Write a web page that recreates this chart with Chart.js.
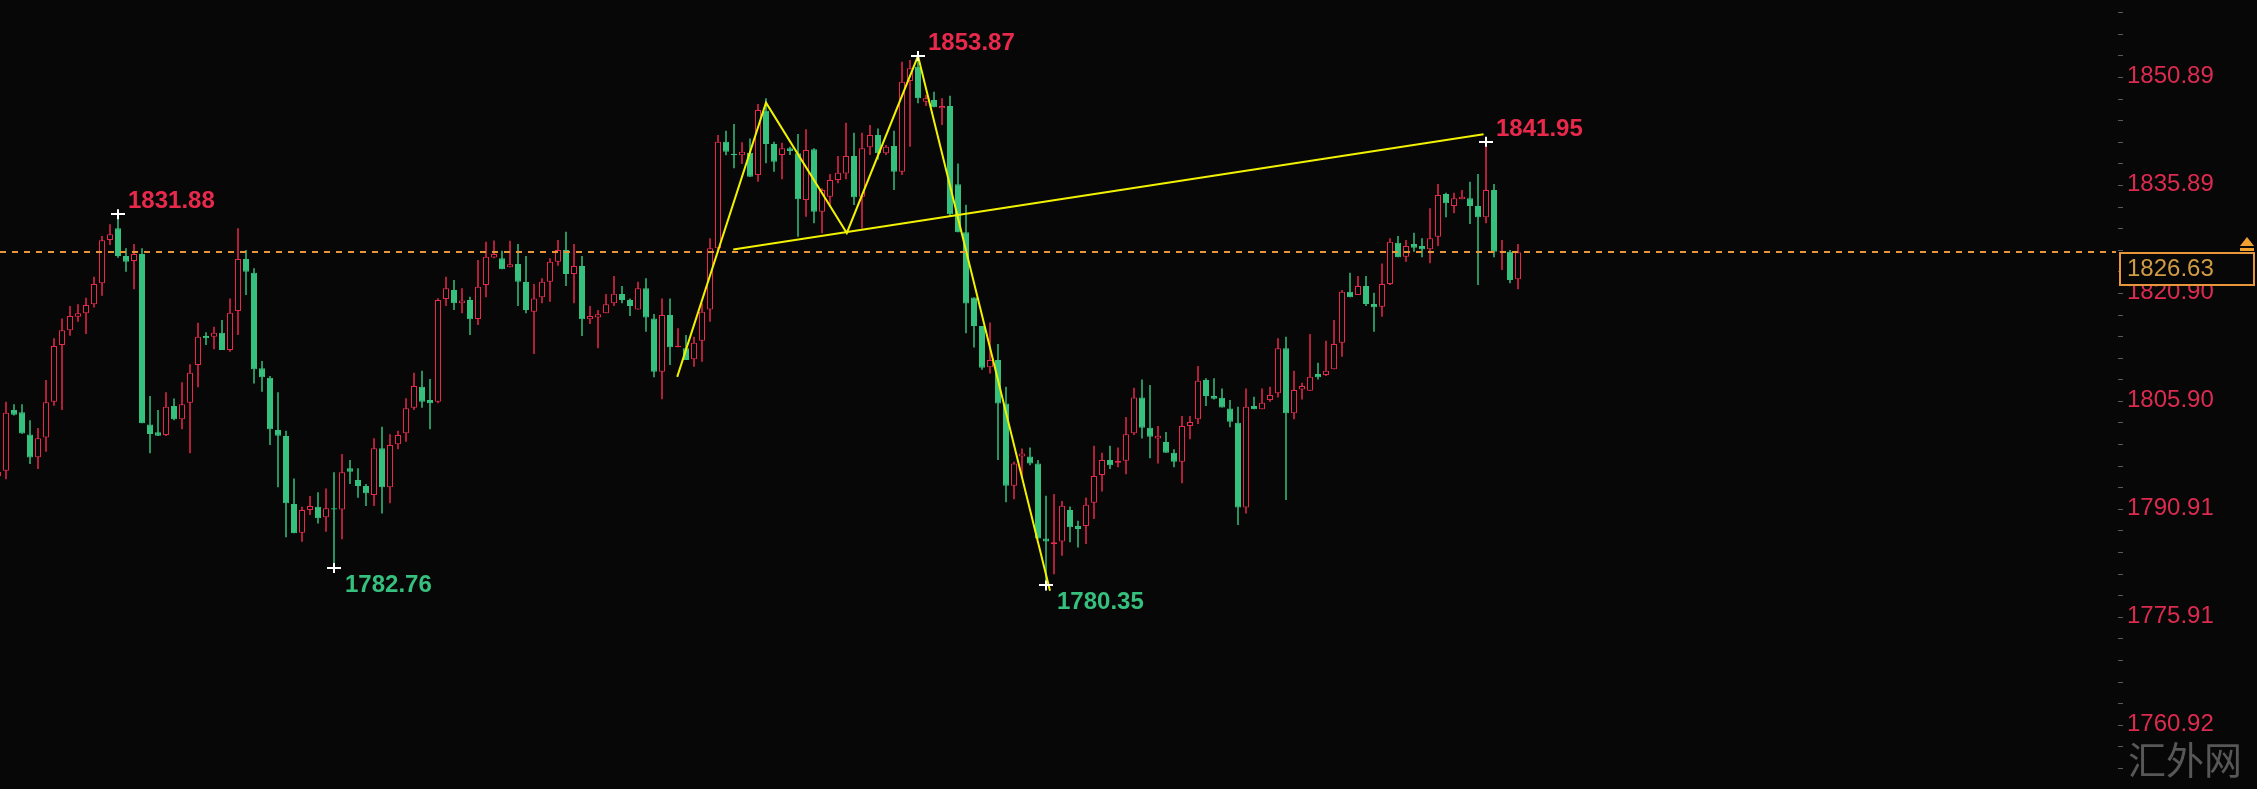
<!DOCTYPE html>
<html>
<head>
<meta charset="utf-8">
<script src="https://cdn.jsdelivr.net/npm/chart.js@4.4.1/dist/chart.umd.min.js"></script>
<style>
  html, body { margin: 0; padding: 0; background: #070707; overflow: hidden; }
  #wrap { width: 2257px; height: 789px; }
</style>
</head>
<body>
<div id="wrap"><canvas id="c" width="2257" height="789" style="width:2257px;height:789px"></canvas></div>
<script>
// ---- Data ----
const firstCandle = -1;
const opens = [1795.5,
1796.28,1804.70,1804.40,1801.30,1798.15,1800.90,1805.86,1813.73,1815.80,1817.67,
1818.13,1819.38,1822.30,1828.32,1829.94,1826.10,1825.40,1826.37,1802.70,1801.60,
1801.23,1805.26,1803.41,1805.72,1810.96,1814.98,1814.89,1815.45,1813.04,1818.45,
1825.68,1823.78,1810.49,1809.20,1801.93,1801.10,1791.65,1787.67,1790.82,1791.28,
1789.80,1791.05,1790.90,1796.60,1794.98,1794.15,1792.90,1799.38,1793.97,1799.94,
1801.47,1805.03,1807.95,1806.09,1805.86,1820.12,1821.37,1819.52,1819.98,1817.34,
1822.07,1825.90,1825.77,1824.52,1824.98,1822.48,1818.36,1820.35,1822.53,1825.31,
1826.93,1823.59,1824.70,1817.30,1817.57,1818.13,1819.52,1820.81,1819.98,1818.68,
1821.60,1817.43,1810.03,1817.90,1813.41,1813.27,1811.74,1814.33,1818.68,1827.16,
1841.97,1840.30,1840.10,1840.45,1837.34,1846.28,1841.65,1840.12,1841.05,1840.35,
1833.87,1840.91,1832.25,1834.33,1836.65,1837.57,1839.98,1834.33,1841.19,1842.90,
1840.35,1841.37,1837.80,1850.40,1852.39,1847.52,1847.76,1846.60,1846.93,1836.06,
1829.41,1820.34,1816.37,1810.66,1811.65,1805.60,1794.20,1798.26,1798.26,1797.27,
1786.85,1786.10,1786.45,1790.82,1788.59,1788.59,1791.81,1795.68,1797.76,1797.37,
1797.67,1801.49,1806.45,1802.23,1800.74,1800.25,1798.76,1797.53,1802.48,1803.41,
1808.87,1806.65,1806.42,1804.93,1802.94,1791.18,1805.26,1804.80,1806.09,1807.02,
1813.27,1804.24,1807.57,1807.39,1809.70,1809.56,1810.35,1814.06,1821.14,1820.68,
1821.93,1819.43,1819.06,1822.20,1827.94,1826.00,1827.76,1827.48,1827.02,1828.78,
1834.71,1833.04,1833.96,1834.10,1833.04,1831.46,1835.26,1826.60,1826.69,1822.86];
const highs = [1796.6,
1805.86,1805.50,1805.50,1803.30,1802.20,1808.87,1814.66,1817.40,1819.15,1819.40,
1820.30,1823.20,1828.87,1830.49,1831.88,1827.16,1827.76,1827.16,1806.65,1804.70,
1807.16,1806.30,1808.55,1811.05,1816.83,1815.50,1816.28,1817.20,1820.20,1829.94,
1826.93,1824.38,1811.51,1809.43,1807.16,1801.84,1795.21,1791.28,1792.76,1793.27,
1793.80,1796.05,1798.60,1797.76,1796.60,1794.43,1800.77,1802.39,1801.33,1801.84,
1806.33,1809.89,1810.17,1809.01,1820.22,1823.22,1822.76,1821.60,1820.45,1825.54,
1828.08,1828.25,1826.83,1828.22,1827.76,1826.09,1822.20,1822.99,1825.77,1828.32,
1829.47,1827.76,1826.09,1819.15,1818.60,1820.81,1823.31,1821.93,1820.21,1822.53,
1822.99,1818.04,1820.21,1820.21,1816.05,1815.12,1814.89,1819.52,1828.55,1842.90,
1843.50,1844.43,1841.88,1842.43,1847.20,1847.99,1841.97,1841.84,1841.28,1843.04,
1843.69,1841.05,1835.49,1837.48,1839.98,1844.61,1843.22,1843.22,1844.29,1843.82,
1841.50,1843.50,1853.08,1853.31,1853.87,1848.45,1848.92,1847.99,1848.36,1838.94,
1833.23,1820.34,1816.37,1816.86,1813.89,1807.93,1797.52,1799.35,1799.50,1797.76,
1792.80,1793.05,1792.06,1791.32,1789.33,1792.55,1799.75,1798.76,1799.75,1799.50,
1803.72,1807.79,1808.93,1808.18,1802.48,1801.64,1799.25,1803.87,1803.87,1810.81,
1809.10,1809.10,1807.71,1806.09,1805.17,1807.71,1806.56,1807.71,1807.94,1814.66,
1814.89,1810.17,1808.50,1815.26,1811.28,1814.33,1817.20,1821.38,1823.78,1823.32,
1823.32,1820.99,1825.07,1828.55,1828.87,1828.32,1829.33,1828.55,1832.71,1836.09,
1834.89,1834.89,1835.26,1836.42,1837.48,1841.95,1836.09,1828.32,1826.93,1827.76];
const lows = [1795.2,
1795.08,1803.95,1801.40,1797.20,1796.50,1798.90,1805.30,1804.70,1815.03,1816.97,
1815.26,1818.96,1820.59,1827.62,1825.86,1823.92,1821.47,1802.85,1798.70,1801.10,
1801.10,1803.30,1802.02,1798.70,1807.85,1813.73,1813.13,1813.04,1812.80,1815.12,
1820.68,1808.40,1807.25,1799.84,1793.97,1787.02,1787.58,1786.42,1790.12,1788.96,
1787.81,1782.76,1786.74,1794.43,1792.53,1791.37,1791.37,1790.35,1791.74,1799.24,
1800.31,1804.70,1805.03,1802.02,1805.63,1819.15,1818.60,1818.13,1815.12,1816.51,
1820.35,1825.80,1824.24,1824.52,1819.15,1818.13,1812.48,1819.52,1819.75,1824.75,
1821.93,1819.52,1814.98,1816.65,1813.27,1818.13,1819.15,1819.52,1817.76,1818.68,
1815.59,1809.24,1806.19,1810.95,1813.41,1811.65,1810.72,1811.42,1816.97,1826.50,
1840.10,1838.27,1838.87,1837.11,1836.42,1838.96,1837.80,1836.74,1840.12,1828.78,
1831.55,1830.63,1829.24,1833.17,1836.19,1836.74,1833.17,1829.93,1840.12,1839.50,
1840.12,1835.26,1837.34,1841.28,1847.30,1846.93,1846.74,1844.29,1831.55,1829.40,
1815.37,1813.39,1810.30,1809.77,1797.76,1791.91,1792.31,1795.39,1797.02,1786.85,
1780.35,1781.90,1784.47,1786.35,1785.61,1786.10,1789.58,1793.40,1796.53,1796.77,
1795.78,1801.24,1800.74,1798.01,1797.27,1798.76,1796.77,1794.52,1800.63,1802.76,
1805.26,1806.18,1805.07,1802.30,1788.73,1790.35,1804.80,1804.80,1805.86,1806.46,
1792.20,1803.41,1806.18,1807.39,1808.96,1809.42,1810.35,1812.12,1820.36,1820.68,
1819.15,1815.59,1817.67,1822.07,1825.91,1825.31,1826.69,1825.91,1825.08,1827.48,
1831.46,1832.02,1833.96,1830.54,1822.07,1830.63,1825.91,1824.15,1822.30,1821.47];
const closes = [1796.1,
1804.33,1804.05,1801.45,1798.10,1800.77,1805.77,1813.60,1815.80,1817.76,1818.13,
1819.30,1822.20,1828.30,1829.10,1826.10,1825.30,1826.37,1802.85,1801.37,1801.14,
1805.17,1803.41,1805.50,1809.89,1814.89,1814.66,1815.45,1813.04,1818.22,1825.68,
1823.92,1810.35,1809.24,1802.02,1801.14,1791.74,1787.58,1790.82,1791.37,1789.66,
1791.05,1790.90,1796.05,1796.14,1794.15,1793.13,1799.38,1793.97,1799.84,1801.23,
1804.94,1808.04,1805.86,1805.63,1819.98,1821.60,1819.52,1819.90,1817.30,1821.84,
1826.00,1826.37,1824.24,1824.94,1822.53,1818.60,1820.21,1822.53,1825.31,1826.93,
1823.59,1824.70,1817.30,1817.76,1817.99,1819.38,1820.86,1819.98,1819.15,1821.60,
1817.57,1810.03,1817.90,1813.41,1813.64,1811.65,1814.05,1818.36,1827.16,1841.97,
1840.58,1840.10,1840.58,1837.11,1846.37,1841.65,1839.19,1841.05,1840.67,1833.96,
1840.81,1832.25,1835.26,1836.65,1837.67,1839.98,1834.24,1841.05,1842.90,1840.35,
1841.28,1837.80,1850.31,1852.16,1847.99,1847.99,1846.74,1846.93,1831.90,1829.41,
1819.49,1816.37,1810.56,1811.65,1805.60,1794.20,1797.27,1798.66,1797.27,1786.85,
1786.45,1786.35,1791.42,1788.44,1788.19,1791.56,1795.53,1797.76,1797.02,1797.61,
1801.34,1806.45,1802.23,1800.99,1801.14,1798.76,1797.52,1802.48,1803.04,1808.78,
1806.65,1806.28,1805.07,1803.08,1791.18,1805.17,1804.80,1805.72,1806.79,1813.27,
1804.24,1807.48,1808.04,1809.33,1809.24,1810.17,1813.87,1821.14,1820.36,1821.93,
1819.43,1818.97,1822.21,1828.08,1825.91,1827.48,1827.25,1827.02,1828.55,1834.57,
1833.41,1834.10,1834.33,1833.04,1831.46,1835.26,1826.69,1826.75,1822.76,1826.63];

// price axis tick labels
const tickLabels = ['1760.92', '1775.91', '1790.91', '1805.90', '1820.90', '1835.89', '1850.89'];
const currentPrice = 1826.63;

// marked highs / lows
const pivotIndex = [14, 41, 114, 130, 185];
const pivotPrice = [1831.88, 1782.76, 1853.87, 1780.35, 1841.95];
const pivotKind = ['high', 'low', 'high', 'low', 'high'];

// yellow drawing lines (candle index, price)
const zigzagIndex = [83.9, 95.0, 105.1, 114.0, 130.5];
const zigzagPrice = [1809.3, 1847.4, 1829.3, 1853.87, 1779.6];
const necklineIndex = [90.9, 184.7];
const necklinePrice = [1827.0, 1843.0];

const watermark = '汇外网';

// ---- Styling ----
const BG = '#070707';
const RED = '#e8294c';
const GREEN = '#36c07e';
const YELLOW = '#f2f200';
const ORANGE = '#e8963a';

const idx = opens.map((_, i) => firstCandle + i);
const isUp = opens.map((o, i) => closes[i] >= o);

const bodyData = idx.map((x, i) => ({ x: x, y: [opens[i], closes[i]] }));
const wickData = idx.map((x, i) => ({ x: x, y: [lows[i], highs[i]] }));

const majorVals = tickLabels.map(Number);

const overlay = {
  id: 'overlay',
  beforeDraw(chart) {
    const ctx = chart.ctx;
    ctx.save();
    ctx.fillStyle = BG;
    ctx.fillRect(0, 0, chart.width, chart.height);
    ctx.restore();
  },
  afterDatasetsDraw(chart) {
    const ctx = chart.ctx;
    const xs = chart.scales.x, ys = chart.scales.y;
    const area = chart.chartArea;
    // current price dashed line
    const py = Math.round(ys.getPixelForValue(currentPrice));
    ctx.save();
    ctx.strokeStyle = ORANGE;
    ctx.lineWidth = 2;
    ctx.setLineDash([6, 6]);
    ctx.beginPath();
    ctx.moveTo(area.left, py);
    ctx.lineTo(area.right - 2, py);
    ctx.stroke();
    ctx.restore();

    // pivot crosses and labels
    ctx.save();
    ctx.font = 'bold 24px "Liberation Sans", Arial, sans-serif';
    ctx.textBaseline = 'alphabetic';
    ctx.textAlign = 'left';
    pivotIndex.forEach((k, j) => {
      const x = xs.getPixelForValue(k);
      const y = ys.getPixelForValue(pivotPrice[j]);
      ctx.strokeStyle = '#ffffff';
      ctx.lineWidth = 2;
      ctx.beginPath();
      ctx.moveTo(x - 7, Math.round(y)); ctx.lineTo(x + 7, Math.round(y));
      ctx.moveTo(x, y - 5); ctx.lineTo(x, y + 5);
      ctx.stroke();
      if (pivotKind[j] === 'high') {
        ctx.fillStyle = RED;
        ctx.fillText(pivotPrice[j].toFixed(2), x + 10, y - 6);
      } else {
        ctx.fillStyle = GREEN;
        ctx.fillText(pivotPrice[j].toFixed(2), x + 11, y + 24);
      }
    });
    ctx.restore();
  },
  afterDraw(chart) {
    const ctx = chart.ctx;
    const ys = chart.scales.y;
    const area = chart.chartArea;
    const py = Math.round(ys.getPixelForValue(currentPrice));
    ctx.save();
    // price box
    const bx = area.right + 1, bw = chart.width - area.right - 3, bh = 34;
    ctx.fillStyle = BG;
    ctx.fillRect(bx, py, bw, bh);
    ctx.strokeStyle = ORANGE;
    ctx.lineWidth = 2;
    ctx.strokeRect(bx + 1, py + 1, bw - 2, bh - 2);
    ctx.fillStyle = '#d29c45';
    ctx.font = '24px "Liberation Sans", Arial, sans-serif';
    ctx.textBaseline = 'middle';
    ctx.textAlign = 'left';
    ctx.fillText(currentPrice.toFixed(2), area.right + 9, py + 17);
    // small arrow icon
    ctx.fillStyle = '#f0a030';
    const ax = chart.width - 17;
    ctx.beginPath();
    ctx.moveTo(ax, py - 6);
    ctx.lineTo(ax + 7, py - 15);
    ctx.lineTo(ax + 14, py - 6);
    ctx.closePath();
    ctx.fill();
    ctx.fillRect(ax, py - 4, 14, 3);
    // watermark
    ctx.fillStyle = '#575757';
    ctx.font = '38px "Noto Sans CJK SC", sans-serif';
    ctx.textBaseline = 'middle';
    ctx.fillText(watermark, 2128, 760);
    ctx.restore();
  }
};

new Chart(document.getElementById('c'), {
  type: 'bar',
  data: {
    datasets: [
      {
        type: 'line',
        data: zigzagIndex.map((x, i) => ({ x: x, y: zigzagPrice[i] })),
        borderColor: YELLOW,
        borderWidth: 2,
        pointRadius: 0,
        tension: 0,
        fill: false,
        order: 0
      },
      {
        type: 'line',
        data: necklineIndex.map((x, i) => ({ x: x, y: necklinePrice[i] })),
        borderColor: YELLOW,
        borderWidth: 2,
        pointRadius: 0,
        tension: 0,
        fill: false,
        order: 0
      },
      {
        data: bodyData,
        backgroundColor: isUp.map(u => u ? BG : GREEN),
        borderColor: isUp.map(u => u ? RED : GREEN),
        borderWidth: 1,
        borderSkipped: false,
        barThickness: 6,
        grouped: false,
        inflateAmount: 0,
        order: 1
      },
      {
        data: wickData,
        backgroundColor: isUp.map(u => u ? RED : GREEN),
        borderWidth: 0,
        barThickness: 1.5,
        grouped: false,
        inflateAmount: 0,
        order: 2
      }
    ]
  },
  options: {
    responsive: false,
    animation: false,
    devicePixelRatio: 1,
    layout: { padding: 0 },
    plugins: { legend: { display: false }, tooltip: { enabled: false } },
    scales: {
      x: {
        type: 'linear',
        display: false,
        offset: false,
        min: -0.75,
        max: 264.0
      },
      y: {
        type: 'linear',
        position: 'right',
        min: 1752.07,
        max: 1861.65,
        border: { display: false },
        grid: {
          drawOnChartArea: false,
          drawTicks: true,
          tickLength: 5,
          color: '#5a5a5a',
          lineWidth: 1
        },
        ticks: {
          autoSkip: false,
          padding: 4,
          labelOffset: -1,
          color: '#dc2b4f',
          font: { family: '"Liberation Sans", Arial, sans-serif', size: 24 },
          callback: function (v) {
            const m = majorVals.findIndex(t => Math.abs(t - v) < 1e-6);
            return m >= 0 ? tickLabels[m] : '';
          }
        },
        afterBuildTicks(scale) {
          const vals = [];
          for (let i = 0; i < majorVals.length - 1; i++) {
            const step = (majorVals[i + 1] - majorVals[i]) / 5;
            for (let j = 0; j < 5; j++) vals.push(majorVals[i] + j * step);
          }
          vals.push(majorVals[majorVals.length - 1]);
          const s0 = (majorVals[1] - majorVals[0]) / 5;
          for (let v = majorVals[0] - s0; v > scale.min; v -= s0) vals.push(v);
          const n = majorVals.length;
          const s1 = (majorVals[n - 1] - majorVals[n - 2]) / 5;
          for (let v = majorVals[n - 1] + s1; v < scale.max; v += s1) vals.push(v);
          vals.sort((a, b) => a - b);
          scale.ticks = vals.map(v => ({ value: v }));
        },
        afterFit(scale) {
          scale.width = 139;
          scale.paddingTop = 0;
          scale.paddingBottom = 0;
        }
      }
    }
  },
  plugins: [overlay]
});
</script>
</body>
</html>
